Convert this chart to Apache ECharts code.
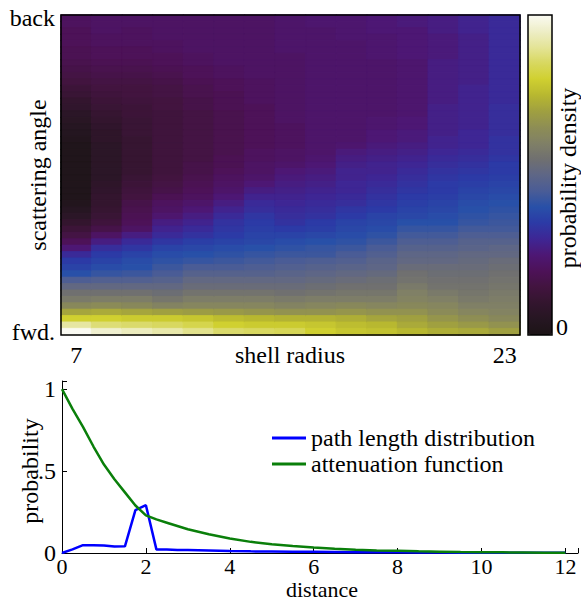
<!DOCTYPE html>
<html>
<head>
<meta charset="utf-8">
<script src="https://cdn.jsdelivr.net/npm/echarts@6/dist/echarts.min.js"></script>
<style>
html,body{margin:0;padding:0;background:#fff;}
#main{width:581px;height:601px;}
</style>
</head>
<body>
<div id="main"></div>
<script>
// ---------- heatmap: shell radius (columns) x scattering angle (rows, back -> fwd) ----------
const radiusLabels = ['7','','','','','','','','','','','','','','23'];
const angleLabels = ['fwd.'].concat(new Array(48).fill(''), ['back']);
// each column: 50 density values (x100), listed from back (top) to fwd (bottom)
const densityColumns = [
 [21,21,20,20,20,19,19,18,17,16, 15,13,12,10,9,7,6,5,4,3, 2,2,2,2,2,2,2,2,2,3, 5,7,10,13,16,20,25,31,35,37, 40,46,51,55,58,63,71,80,91,100],
 [22,22,22,21,21,20,20,19,18,17, 16,15,14,13,12,11,10,9,8,8, 7,7,7,7,7,7,8,9,10,10, 11,12,14,17,22,27,32,35,37,39, 42,47,51,55,59,64,72,80,87,96],
 [22,22,21,21,21,20,20,19,18,17, 16,15,15,14,13,13,12,12,12,11, 11,11,11,11,11,12,13,14,15,17, 18,19,20,22,27,31,34,37,39,40, 43,47,51,55,59,63,71,79,86,94],
 [22,22,22,22,21,21,20,20,19,18, 17,16,16,15,15,14,14,14,14,14, 14,14,14,14,14,15,16,17,19,21, 22,24,27,29,31,34,37,39,41,43, 45,48,51,54,57,61,70,79,85,92],
 [22,22,22,22,22,22,21,21,20,20, 19,18,18,17,17,16,16,16,16,16, 16,16,16,17,17,18,19,20,21,23, 25,27,29,31,33,36,38,40,42,45, 48,51,53,56,59,62,69,78,83,89],
 [22,22,22,22,22,22,22,22,21,21, 20,20,19,19,19,18,18,18,18,18, 18,18,19,19,20,21,22,23,25,27, 29,31,33,34,35,37,39,41,43,45, 48,51,53,56,59,62,68,76,80,86],
 [22,22,22,22,22,22,22,22,22,22, 21,21,21,21,20,20,20,20,20,20, 20,21,21,22,22,23,25,27,29,31, 32,34,35,36,37,38,40,42,44,46, 48,51,53,56,59,62,67,75,79,85],
 [23,23,23,23,23,23,22,22,22,22, 22,22,22,22,22,22,22,21,21,21, 21,22,22,23,25,26,27,28,29,30, 31,32,33,35,37,39,41,43,45,47, 49,51,53,55,58,61,66,74,79,84],
 [24,24,23,23,23,23,23,23,23,23, 23,23,23,23,23,23,23,23,23,23, 23,23,24,25,26,27,28,29,30,31, 32,33,35,36,38,40,42,43,46,48, 50,52,54,56,59,62,66,74,78,80],
 [24,24,24,24,23,23,23,23,23,23, 23,23,23,23,23,23,23,23,23,23, 24,26,27,28,29,29,30,30,31,32, 34,35,37,38,39,41,43,45,47,49, 51,53,55,57,59,63,67,73,76,78],
 [25,25,25,24,24,24,24,23,23,23, 23,23,23,23,23,23,24,24,25,25, 26,27,28,29,29,30,31,32,33,34, 35,37,38,39,41,43,45,47,49,50, 52,54,55,57,59,62,66,71,75,77],
 [26,26,25,25,25,25,25,24,24,24, 24,24,24,24,24,24,25,25,26,26, 27,28,29,30,31,32,33,34,35,36, 37,38,40,42,44,46,48,50,51,53, 55,56,58,60,61,63,66,70,72,75],
 [27,27,27,26,26,26,26,27,27,27, 27,27,27,27,28,28,28,28,28,29, 29,30,31,32,33,34,35,35,36,37, 38,39,40,42,44,46,48,50,51,53, 54,55,56,58,60,62,64,67,70,73],
 [29,29,29,28,28,28,28,28,28,28, 28,29,29,29,29,29,29,29,30,30, 30,31,32,33,34,35,36,37,38,39, 40,41,42,44,46,48,49,51,52,53, 54,55,56,57,58,60,62,65,68,72],
 [31,31,31,31,31,31,31,31,31,31, 31,31,31,31,32,32,32,32,32,33, 33,33,34,35,35,36,37,38,39,40, 41,42,43,44,46,48,50,51,53,54, 55,56,57,58,59,60,61,63,66,70]
];
const colorbarTicks = ['0'];

// ---------- line chart ----------
const distance = [0,0.25,0.5,0.75,1,1.25,1.5,1.75,2,2.25,2.5,2.75,3,3.5,4,4.5,5,5.5,6,6.5,7,7.5,8,8.5,9,9.5,10,10.5,11,11.5,12];
const pathLength = [0,0.022,0.048,0.048,0.046,0.039,0.041,0.262,0.292,0.022,0.021,0.019,0.018,0.015,0.012,0.010,0.009,0.008,0.007,0.006,0.005,0.004,0.004,0.003,0.003,0.002,0.002,0.001,0.001,0.001,0.001];
const attenuation = [1.0,0.88,0.77,0.65,0.54,0.45,0.37,0.29,0.23,0.205,0.185,0.165,0.145,0.115,0.088,0.068,0.053,0.042,0.033,0.026,0.020,0.016,0.013,0.010,0.008,0.006,0.005,0.004,0.003,0.002,0.002];
const seriesNames = ['path length distribution','attenuation function'];

const FONT = 'Liberation Serif, Times New Roman, serif';
const cmap = ['#1c1416','#261622','#33152e','#42143f','#4d1258','#4d1774','#3e2694','#2c3aa6','#2850a8','#4a5c96','#5e6686','#707070','#808066','#8e8e54','#a0a040','#b8b830','#d0d030','#d8d860','#e4e498','#eeeec8','#fafaf2'];

function hex2rgb(h) { return [parseInt(h.substr(1,2),16), parseInt(h.substr(3,2),16), parseInt(h.substr(5,2),16)]; }
function colorAt(v) {
  const t = Math.max(0, Math.min(1, v)) * (cmap.length - 1);
  const i = Math.min(cmap.length - 2, Math.floor(t));
  const f = t - i;
  const a = hex2rgb(cmap[i]), b = hex2rgb(cmap[i + 1]);
  const c = a.map((x, k) => Math.round(x + (b[k] - x) * f));
  return 'rgb(' + c.join(',') + ')';
}

const nRows = angleLabels.length;
const heatData = [];
densityColumns.forEach((col, c) => {
  col.forEach((v, r) => {
    const color = colorAt(v / 100);
    heatData.push({value: [c, nRows - 1 - r, v / 100], itemStyle: {color: color, borderColor: color, borderWidth: 0.8}});
  });
});
const pair = (xs, ys) => xs.map((x, i) => [x, ys[i]]);

const txt = (text, x, y, extraStyle, opts) => Object.assign({
  type: 'text', z: 100, x: x, y: y,
  style: Object.assign({text: text, fontSize: 24, fontFamily: FONT, fill: '#000', align: 'center', verticalAlign: 'middle'}, extraStyle || {})
}, opts || {});

const chart = echarts.init(document.getElementById('main'), null, {renderer: 'svg'});
chart.setOption({
  animation: false,
  backgroundColor: '#fff',
  textStyle: {fontFamily: FONT, color: '#000'},
  grid: [
    {left: 61, top: 15, width: 459, height: 320},
    {left: 62, top: 381, width: 517, height: 172}
  ],
  xAxis: [
    {type: 'category', gridIndex: 0, data: radiusLabels,
     axisLine: {show: false}, axisTick: {show: false}, splitLine: {show: false},
     axisLabel: {interval: 0, fontSize: 24, fontFamily: FONT, color: '#000', margin: 8}},
    {type: 'value', gridIndex: 1, min: 0, max: 12.3, interval: 2,
     axisLine: {show: true, lineStyle: {color: '#000', width: 1}},
     axisTick: {show: true, inside: true, length: 5, lineStyle: {color: '#000'}},
     splitLine: {show: false},
     axisLabel: {fontSize: 22, fontFamily: FONT, color: '#000', margin: 2,
       formatter: v => (Math.abs(v / 2 - Math.round(v / 2)) < 1e-9 ? String(v) : '')}}
  ],
  yAxis: [
    {type: 'category', gridIndex: 0, data: angleLabels,
     axisLine: {show: false}, axisTick: {show: false}, splitLine: {show: false},
     axisLabel: {interval: 0, fontSize: 24, fontFamily: FONT, color: '#000', margin: 6}},
    {type: 'value', gridIndex: 1, min: 0, max: 1.05, interval: 0.5,
     axisLine: {show: true, lineStyle: {color: '#000', width: 1}},
     axisTick: {show: true, inside: true, length: 5, lineStyle: {color: '#000'}},
     splitLine: {show: false},
     axisLabel: {fontSize: 24, fontFamily: FONT, color: '#000', margin: 6,
       formatter: v => (v === 0 ? '0' : v === 0.5 ? '.5' : v === 1 ? '1' : '')}}
  ],
  visualMap: {
    type: 'continuous', seriesIndex: [], min: 0, max: 1, calculable: false,
    orient: 'vertical', left: 528, top: 15, itemWidth: 24, itemHeight: 320,
    padding: 0, text: null, showLabel: false,
    inRange: {color: cmap}
  },
  legend: {
    data: seriesNames, orient: 'vertical', left: 272, top: 426, padding: 0,
    itemWidth: 34, itemHeight: 3, itemGap: 2, icon: 'rect',
    textStyle: {fontSize: 24, fontFamily: FONT, color: '#000'}
  },
  series: [
    {type: 'heatmap', xAxisIndex: 0, yAxisIndex: 0, data: heatData, emphasis: {disabled: true}},
    {type: 'line', name: seriesNames[0], xAxisIndex: 1, yAxisIndex: 1, data: pair(distance, pathLength),
     showSymbol: false, color: '#0000ff', lineStyle: {color: '#0000ff', width: 2.5}},
    {type: 'line', name: seriesNames[1], xAxisIndex: 1, yAxisIndex: 1, data: pair(distance, attenuation),
     showSymbol: false, color: '#0a7f0a', lineStyle: {color: '#0a7f0a', width: 2.5}}
  ],
  graphic: [
    {type: 'rect', z: 100, shape: {x: 61, y: 15, width: 459, height: 320}, style: {fill: 'none', stroke: '#000', lineWidth: 1.5}},
    {type: 'rect', z: 100, shape: {x: 528, y: 15, width: 24, height: 320}, style: {fill: 'none', stroke: '#000', lineWidth: 1.5}},
    txt('scattering angle', 38, 175, null, {rotation: Math.PI / 2}),
    txt('shell radius', 290, 355),
    txt(colorbarTicks[0], 562, 327),
    txt('probability density', 568, 178, null, {rotation: Math.PI / 2}),
    txt('probability', 30, 471, null, {rotation: Math.PI / 2}),
    txt('distance', 322, 589.5, {fontSize: 22})
  ]
});
</script>
</body>
</html>
